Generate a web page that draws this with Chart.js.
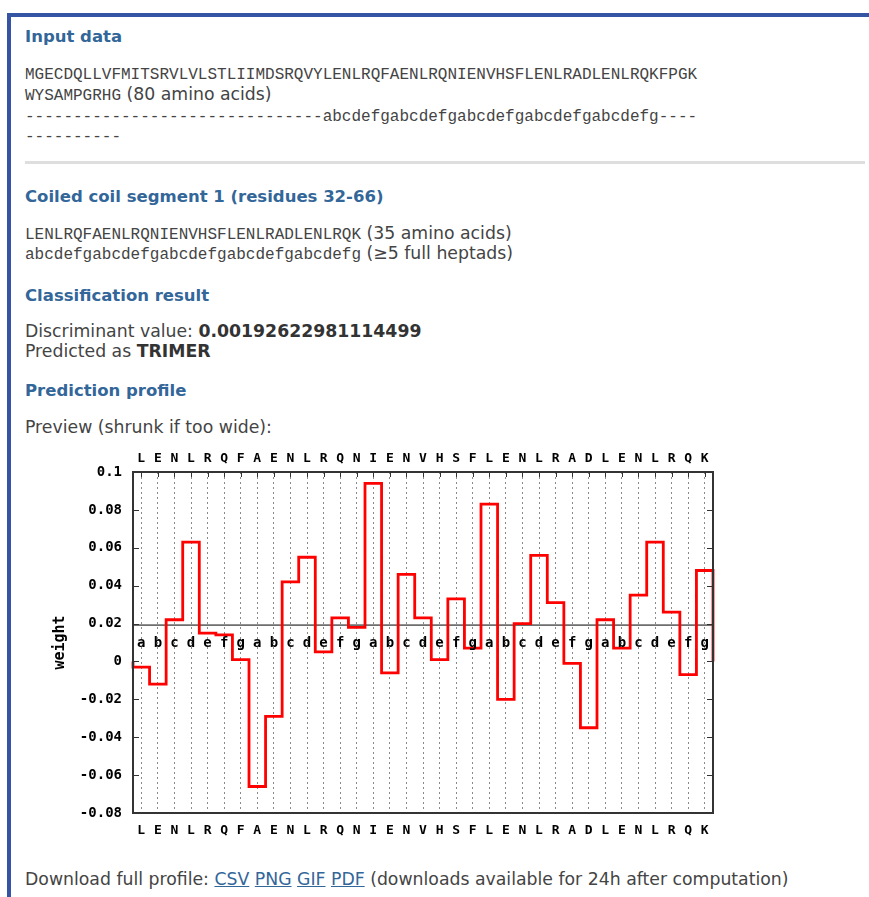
<!DOCTYPE html>
<html>
<head>
<meta charset="utf-8">
<script src="https://cdn.jsdelivr.net/npm/chart.js@4.4.1/dist/chart.umd.min.js"></script>
<style>
  body { margin: 0; background: #fff; width: 869px; height: 897px; overflow: hidden; position: relative;
         font-family: "DejaVu Sans", Verdana, sans-serif; font-size: 17.3px; color: #444; }
  .bar-top { position: absolute; left: 7px; top: 13px; width: 862px; height: 4px; background: #3554a4; }
  .bar-left { position: absolute; left: 7px; top: 13px; width: 4px; height: 884px; background: #3554a4; }
  .sep { position: absolute; left: 25px; top: 161px; width: 840px; height: 3px; background: #dedede; }
  .ln { position: absolute; left: 25px; white-space: nowrap; height: 20px; line-height: 20px; }
  .h { font-weight: bold; color: #336699; font-size: 16.5px; }
  .mono { font-family: "Liberation Mono", monospace; font-size: 16px; color: #444; }
  b { color: #333; }
  a { color: #336699; }
  #wrap { position: absolute; left: 25px; top: 440px; width: 700px; height: 410px; }
</style>
</head>
<body>
<div class="bar-top"></div>
<div class="bar-left"></div>

<div class="ln h" style="top:27px">Input data</div>
<div class="ln" style="top:63px"><span class="mono">MGECDQLLVFMITSRVLVLSTLIIMDSRQVYLENLRQFAENLRQNIENVHSFLENLRADLENLRQKFPGK</span></div>
<div class="ln" style="top:84px"><span class="mono">WYSAMPGRHG</span> (80 amino acids)</div>
<div class="ln" style="top:105px"><span class="mono">-------------------------------abcdefgabcdefgabcdefgabcdefgabcdefg----</span></div>
<div class="ln" style="top:125px"><span class="mono">----------</span></div>
<div class="sep"></div>

<div class="ln h" style="top:187px">Coiled coil segment 1 (residues 32-66)</div>
<div class="ln" style="top:223px"><span class="mono">LENLRQFAENLRQNIENVHSFLENLRADLENLRQK</span> (35 amino acids)</div>
<div class="ln" style="top:243px"><span class="mono">abcdefgabcdefgabcdefgabcdefgabcdefg</span> (&ge;5 full heptads)</div>
<div class="ln h" style="top:286px">Classification result</div>
<div class="ln" style="top:321px">Discriminant value: <b>0.00192622981114499</b></div>
<div class="ln" style="top:341px">Predicted as <b>TRIMER</b></div>
<div class="ln h" style="top:381px">Prediction profile</div>
<div class="ln" style="top:417px">Preview (shrunk if too wide):</div>

<div id="wrap"><canvas id="profile" width="700" height="410"></canvas></div>

<div class="ln" style="top:869px">Download full profile: <a href="#">CSV</a> <a href="#">PNG</a> <a href="#">GIF</a> <a href="#">PDF</a> (downloads available for 24h after computation)</div>

<script>
// residues 32-66 of the input sequence
const residues = ['L','E','N','L','R','Q','F','A','E','N','L','R','Q','N','I','E','N','V','H','S','F','L','E','N','L','R','A','D','L','E','N','L','R','Q','K'];
const heptads = ['a','b','c','d','e','f','g','a','b','c','d','e','f','g','a','b','c','d','e','f','g',
                 'a','b','c','d','e','f','g','a','b','c','d','e','f','g'];
// per-residue weight
const weights = [-0.003, -0.012, 0.022, 0.063, 0.015, 0.014, 0.001, -0.066, -0.029, 0.042,
                 0.055, 0.005, 0.023, 0.018, 0.094, -0.006, 0.046, 0.023, 0.001, 0.033,
                 0.007, 0.083, -0.020, 0.020, 0.056, 0.031, -0.001, -0.035, 0.022, 0.007,
                 0.035, 0.063, 0.026, -0.007, 0.048];
const discriminant = 0.0192;
const yTicks = [-0.08, -0.06, -0.04, -0.02, 0, 0.02, 0.04, 0.06, 0.08, 0.1];

// histogram-style steps: each residue covers [i-0.5, i+0.5], dropping to 0 at both ends
const stepPts = [{x: 0.5, y: 0}];
weights.forEach((w, i) => stepPts.push({x: i + 0.5, y: w}));
stepPts.push({x: residues.length + 0.5, y: weights[weights.length - 1]});
stepPts.push({x: residues.length + 0.5, y: 0});

const monoBold = { family: 'DejaVu Sans Mono', size: 13, weight: 'bold' };
const tickFont = { family: 'DejaVu Sans Mono', size: 14, weight: 'bold' };
const residueTicks = s => { s.ticks = residues.map((r, i) => ({ value: i + 1 })); };
const residueLabel = (v) => residues[Math.round(v) - 1] || '';

const gnuplotFrame = {
  id: 'gnuplotFrame',
  afterDatasetsDraw(chart) {
    const { ctx, chartArea: a, scales } = chart;
    const x = scales.x, y = scales.y;
    ctx.save();
    // heptad positions under the discriminant line
    ctx.fillStyle = '#000';
    ctx.font = 'bold 14px "DejaVu Sans Mono"';
    ctx.textAlign = 'center';
    ctx.textBaseline = 'middle';
    const hy = y.getPixelForValue(discriminant) + 18;
    heptads.forEach((h, i) => ctx.fillText(h, x.getPixelForValue(i + 1), hy));
    // inner tick marks
    ctx.strokeStyle = '#333';
    ctx.lineWidth = 1;
    ctx.beginPath();
    yTicks.forEach(v => {
      const py = Math.round(y.getPixelForValue(v)) + 0.5;
      ctx.moveTo(a.left, py); ctx.lineTo(a.left + 6, py);
      ctx.moveTo(a.right, py); ctx.lineTo(a.right - 6, py);
    });
    residues.forEach((r, i) => {
      const px = Math.round(x.getPixelForValue(i + 1)) + 0.5;
      ctx.moveTo(px, a.top); ctx.lineTo(px, a.top + 5);
    });
    ctx.stroke();
    // frame
    ctx.strokeStyle = '#333';
    ctx.lineWidth = 2;
    ctx.strokeRect(a.left, a.top, a.right - a.left, a.bottom - a.top);
    ctx.restore();
  }
};

new Chart(document.getElementById('profile'), {
  type: 'line',
  data: {
    datasets: [
      {
        data: stepPts,
        stepped: 'before',
        borderColor: '#ff0000',
        borderWidth: 2.8,
        pointRadius: 0,
        fill: false,
        clip: false,
        order: 1
      },
      {
        data: [{x: 0.5, y: discriminant}, {x: residues.length + 0.5, y: discriminant}],
        borderColor: '#000',
        borderWidth: 1,
        pointRadius: 0,
        fill: false,
        order: 2
      }
    ]
  },
  options: {
    responsive: false,
    devicePixelRatio: 1,
    animation: false,
    layout: { padding: { right: 12, left: 0, top: 0, bottom: 0 } },
    plugins: { legend: { display: false }, tooltip: { enabled: false } },
    scales: {
      x: {
        type: 'linear', position: 'bottom', min: 0.5, max: residues.length + 0.5,
        afterBuildTicks: residueTicks,
        afterFit: s => { s.height = 37; },
        ticks: { callback: residueLabel, color: '#000', font: monoBold, padding: 10, maxRotation: 0, autoSkip: false },
        grid: { color: '#8a8a8a', lineWidth: 1, drawTicks: false },
        border: { display: false, dash: [2, 3] }
      },
      xTop: {
        type: 'linear', position: 'top', min: 0.5, max: residues.length + 0.5,
        afterBuildTicks: residueTicks,
        afterFit: s => { s.height = 32; },
        ticks: { callback: residueLabel, color: '#000', font: monoBold, padding: 6, maxRotation: 0, autoSkip: false },
        grid: { display: false, drawTicks: false },
        border: { display: false }
      },
      y: {
        min: -0.08, max: 0.1,
        afterBuildTicks: s => { s.ticks = yTicks.map(v => ({ value: v })); },
        afterFit: s => { s.width = 108; },
        ticks: { callback: v => String(Number(v.toFixed(2))), color: '#000', font: tickFont, padding: 11 },
        grid: { display: false, drawTicks: false },
        border: { display: false },
        title: { display: true, text: 'weight', color: '#000', font: { family: 'DejaVu Sans Mono', size: 15, weight: 'bold' }, padding: { top: 26, bottom: 0 } }
      }
    }
  },
  plugins: [gnuplotFrame]
});
</script>
</body>
</html>
